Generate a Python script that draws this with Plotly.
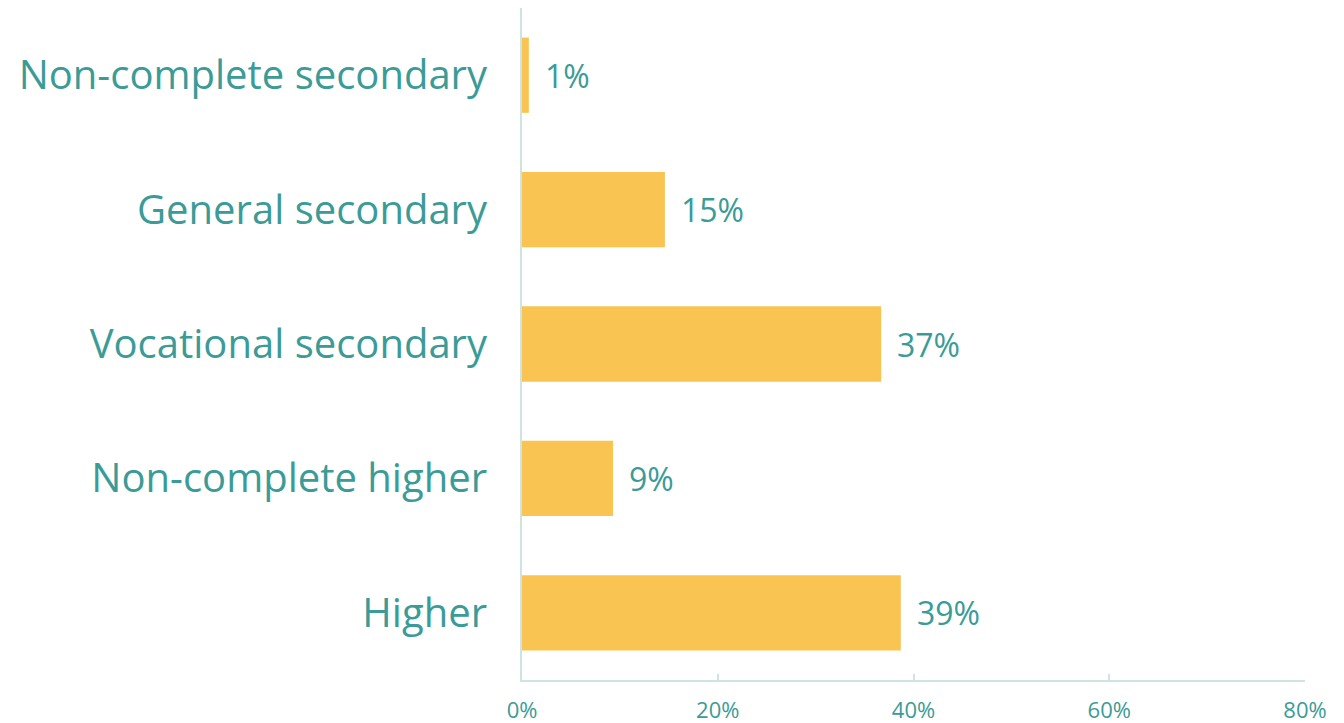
import plotly.graph_objects as go

categories = ["Non-complete secondary", "General secondary", "Vocational secondary",
              "Non-complete higher", "Higher"]
values = [0.7, 14.6, 36.7, 9.3, 38.7]
labels = ["1%", "15%", "37%", "9%", "39%"]
tick_vals = [0, 20, 40, 60, 80]
tick_text = ["0%", "20%", "40%", "60%", "80%"]

TEAL = "#3B9B97"
BAR = "#F9C452"
AXIS = "#CFE3E3"
FONT = "Open Sans"

fig = go.Figure()
fig.add_trace(go.Bar(
    y=categories, x=values, orientation="h",
    marker=dict(color=BAR, line=dict(width=0)),
    hoverinfo="skip",
))

for c, v, t in zip(categories, values, labels):
    fig.add_annotation(x=v, y=c, text=t, showarrow=False, xanchor="left",
                       yanchor="middle", xshift=14,
                       font=dict(family=FONT, size=32, color=TEAL))

fig.update_layout(
    width=1344, height=723,
    margin=dict(l=514, r=47, t=0, b=51),
    paper_bgcolor="white", plot_bgcolor="white",
    bargap=0.44, showlegend=False,
)
fig.update_xaxes(
    range=[0, 80], tickvals=tick_vals, ticktext=tick_text,
    showgrid=False, zeroline=False, showline=True, linecolor=AXIS, linewidth=2,
    ticks="inside", ticklen=6, tickcolor=AXIS, tickwidth=2,
    ticklabelstandoff=10,
    tickfont=dict(family=FONT, size=22, color=TEAL),
)
fig.update_yaxes(
    autorange="reversed", showgrid=False, zeroline=False,
    showline=True, linecolor=AXIS, linewidth=2, ticks="",
    ticklabelstandoff=25,
    tickfont=dict(family=FONT, size=40, color=TEAL),
)

fig.write_html("out.html")
